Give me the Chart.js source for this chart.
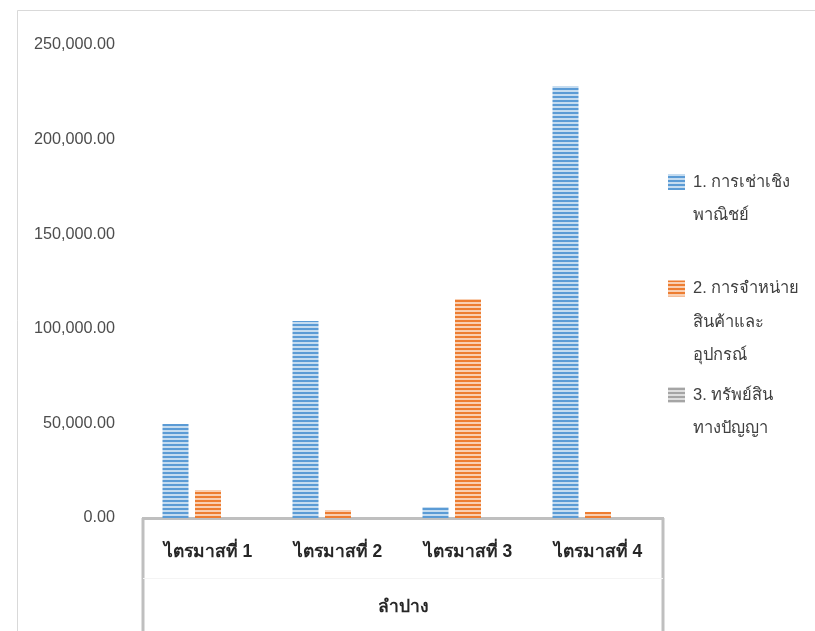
<!DOCTYPE html>
<html>
<head>
<meta charset="utf-8">
<script src="https://cdn.jsdelivr.net/npm/chart.js@4/dist/chart.umd.min.js"></script>
<style>
  html, body { margin: 0; padding: 0; background: #fff; }
  #wrap { position: relative; width: 815px; height: 631px; }
</style>
</head>
<body>
<div id="wrap"><canvas id="myChart" width="815" height="631"></canvas></div>
<script>
'use strict';

// data
let quarters = ['ไตรมาสที่ 1', 'ไตรมาสที่ 2', 'ไตรมาสที่ 3', 'ไตรมาสที่ 4'];
let groupName = 'ลำปาง';
let rentValues = [49700, 104100, 5800, 228300];
let salesValues = [14800, 4200, 115800, 3200];
let ipValues = [0, 0, 0, 0];
let seriesNames = ['1. การเช่าเชิงพาณิชย์', '2. การจำหน่ายสินค้าและอุปกรณ์', '3. ทรัพย์สินทางปัญญา'];
let legendLines = [
  ['1. การเช่าเชิง', 'พาณิชย์'],
  ['2. การจำหน่าย', 'สินค้าและ', 'อุปกรณ์'],
  ['3. ทรัพย์สิน', 'ทางปัญญา']
];
let yMax = 250000;
let yStep = 50000;

const FONT = 'Tahoma, "Liberation Sans", "Noto Sans", sans-serif';

function stripes(dark, light) {
  const c = document.createElement('canvas');
  c.width = 4;
  c.height = 4;
  const g = c.getContext('2d');
  g.fillStyle = light;
  g.fillRect(0, 0, 4, 4);
  g.fillStyle = dark;
  g.fillRect(0, 0, 4, 2);
  return g.createPattern(c, 'repeat');
}

let fills = [
  stripes('#5b9bd5', '#c5dcf0'),
  stripes('#ed7d31', '#f9cfb2'),
  stripes('#a5a5a5', '#dedede')
];

// outer frame + group box under the axis
const framePlugin = {
  id: 'frame',
  beforeDraw(chart) {
    const ctx = chart.ctx;
    ctx.save();
    ctx.fillStyle = '#fff';
    ctx.fillRect(0, 0, chart.width, chart.height);
    ctx.strokeStyle = '#d9d9d9';
    ctx.lineWidth = 1;
    ctx.beginPath();
    ctx.moveTo(17.5, chart.height);
    ctx.lineTo(17.5, 10.5);
    ctx.lineTo(chart.width, 10.5);
    ctx.stroke();
    ctx.restore();
  },
  afterDraw(chart) {
    const ctx = chart.ctx;
    const a = chart.chartArea;
    ctx.save();
    ctx.strokeStyle = '#bfbfbf';
    ctx.lineWidth = 3;
    ctx.beginPath();
    ctx.moveTo(a.left, a.bottom);
    ctx.lineTo(a.left, chart.height);
    ctx.moveTo(a.right, a.bottom);
    ctx.lineTo(a.right, chart.height);
    ctx.stroke();
    ctx.strokeStyle = '#f4f4f4';
    ctx.lineWidth = 1;
    ctx.beginPath();
    ctx.moveTo(a.left, 578.5);
    ctx.lineTo(a.right, 578.5);
    ctx.stroke();
    ctx.fillStyle = '#262626';
    ctx.font = 'bold 17.5px ' + FONT;
    ctx.textAlign = 'center';
    ctx.textBaseline = 'middle';
    ctx.fillText(groupName, (a.left + a.right) / 2, 607);

    // legend with wrapped labels
    ctx.font = '16.5px ' + FONT;
    ctx.textAlign = 'left';
    for (let i = 0; i < legendLines.length; i++) {
      const y0 = 182 + i * 106.5;
      ctx.fillStyle = fills[i];
      ctx.fillRect(668, y0 - 8, 17, 16);
      ctx.fillStyle = '#404040';
      for (let j = 0; j < legendLines[i].length; j++) {
        ctx.fillText(legendLines[i][j], 693, y0 + j * 33.5);
      }
    }
    ctx.restore();
  }
};

let ctx = document.getElementById('myChart').getContext('2d');
let myChart = new Chart(ctx, {
  type: 'bar',
  data: {
    labels: quarters,
    datasets: [{
      label: seriesNames[0],
      data: rentValues,
      backgroundColor: fills[0],
      borderWidth: 0
    }, {
      label: seriesNames[1],
      data: salesValues,
      backgroundColor: fills[1],
      borderWidth: 0
    }, {
      label: seriesNames[2],
      data: ipValues,
      backgroundColor: fills[2],
      borderWidth: 0
    }]
  },
  options: {
    responsive: false,
    animation: false,
    devicePixelRatio: 1,
    layout: {
      padding: { top: 45, right: 152, left: 0, bottom: 0 }
    },
    datasets: {
      bar: { categoryPercentage: 0.75, barPercentage: 0.8 }
    },
    plugins: {
      legend: { display: false },
      tooltip: { enabled: false }
    },
    scales: {
      x: {
        grid: { display: false, drawTicks: false },
        border: { display: true, color: '#bfbfbf', width: 3 },
        ticks: {
          color: '#262626',
          font: { family: FONT, size: 17.5, weight: 'bold' },
          padding: 24,
          maxRotation: 0
        },
        afterFit(scale) { scale.height = 113; }
      },
      y: {
        min: 0,
        max: yMax,
        grid: { display: false, drawTicks: false },
        border: { display: false },
        ticks: {
          stepSize: yStep,
          color: '#4d4d4d',
          font: { family: FONT, size: 16.2 },
          padding: 28,
          callback: function (v) {
            return v.toLocaleString('en-US', { minimumFractionDigits: 2, maximumFractionDigits: 2 });
          }
        },
        afterFit(scale) { scale.width = 143; }
      }
    }
  },
  plugins: [framePlugin]
});
</script>
</body>
</html>
